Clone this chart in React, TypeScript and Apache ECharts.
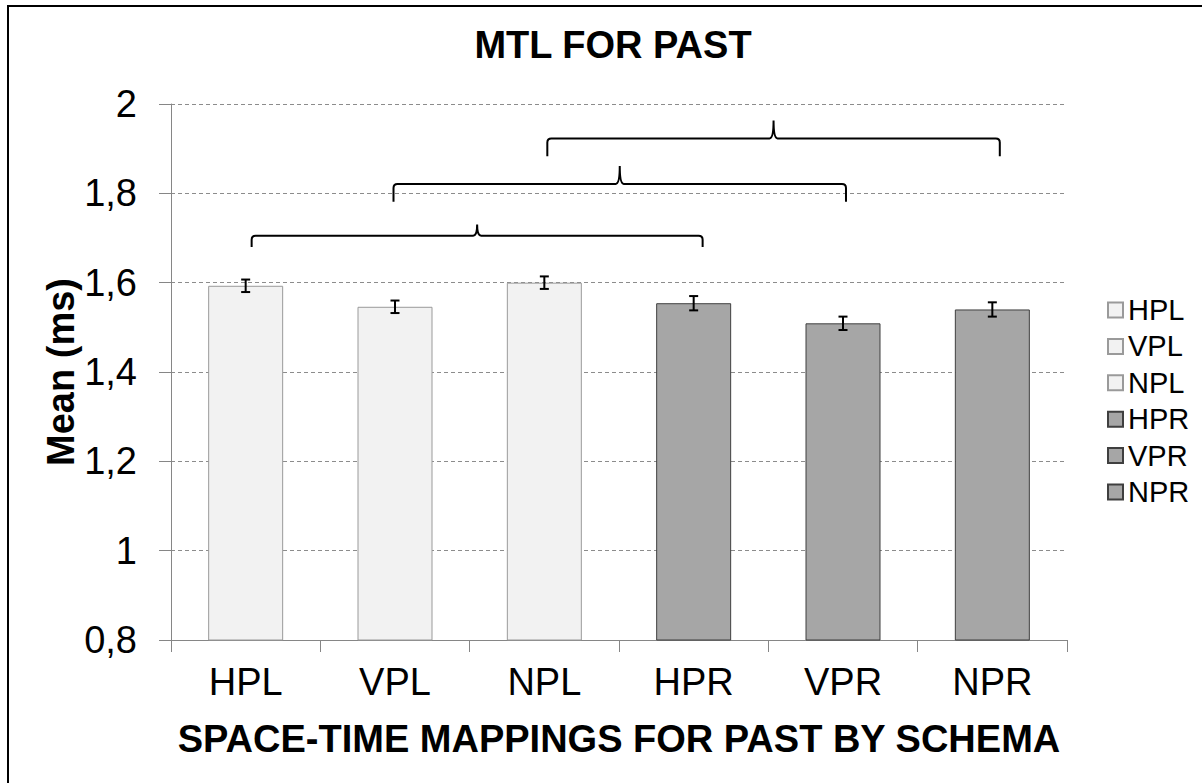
import React, { useEffect, useRef } from "react";
import * as echarts from "echarts";

const categories = ["HPL", "VPL", "NPL", "HPR", "VPR", "NPR"];
const means = [1.593, 1.546, 1.6, 1.554, 1.509, 1.54];
const errors = [0.014, 0.014, 0.014, 0.016, 0.015, 0.016];
const groupOf = ["L", "L", "L", "R", "R", "R"];

// significance brackets (category positions, level and depth in axis units)
const bracketFrom = [0.04, 0.99, 2.02];
const bracketTo = [3.06, 4.02, 5.05];
const bracketLevel = [1.705, 1.821, 1.923];
const bracketDepth = [0.025, 0.04, 0.04];

const yMin = 0.8;
const yMax = 2;
const yStep = 0.2;

const FONT = "'Liberation Sans', Arial, sans-serif";

export default function App() {
  const ref = useRef<HTMLDivElement>(null);

  useEffect(() => {
    if (!ref.current) return;
    const chart = echarts.init(ref.current, undefined, { renderer: "svg" });

    const styleFor = (g: string) =>
      g === "L"
        ? { color: "#f2f2f2", borderColor: "#9a9a9a", borderWidth: 1 }
        : { color: "#a6a6a6", borderColor: "#3f3f3f", borderWidth: 1 };

    const barSeries = categories.map((c, i) => ({
      type: "bar",
      name: c,
      data: means.map((m, j) => (j === i ? m : null)),
      barWidth: 75,
      barGap: "-100%",
      itemStyle: styleFor(groupOf[i]),
      emphasis: { disabled: true },
    }));

    const xAt = (api: any, pos: number, y: number) => {
      const base = Math.floor(pos);
      const c = api.coord([base, y]);
      const bw = api.size([1, 0])[0];
      return c[0] + (pos - base) * bw;
    };

    const option: any = {
      animation: false,
      textStyle: { fontFamily: FONT },
      title: {
        text: "MTL FOR PAST",
        left: 608,
        textAlign: "center",
        top: 21,
        textStyle: { fontFamily: FONT, fontSize: 38, fontWeight: "bold", color: "#000" },
      },
      grid: { left: 171, right: 135, top: 104, bottom: 143, containLabel: false },
      legend: {
        data: categories,
        orient: "vertical",
        left: 1102,
        top: 290,
        itemWidth: 15,
        itemHeight: 15,
        itemGap: 6.4,
        icon: "rect",
        selectedMode: false,
        textStyle: { fontFamily: FONT, fontSize: 29, color: "#000", lineHeight: 30 },
      },
      xAxis: {
        type: "category",
        data: categories,
        name: "SPACE-TIME MAPPINGS FOR PAST BY SCHEMA",
        nameLocation: "middle",
        nameGap: 80,
        nameMoveOverlap: false,
        nameTextStyle: { fontFamily: FONT, fontSize: 38, fontWeight: "bold", color: "#000" },
        axisLine: { lineStyle: { color: "#868686", width: 1 } },
        axisTick: { show: true, length: 12, lineStyle: { color: "#868686" } },
        axisLabel: { fontFamily: FONT, fontSize: 38, color: "#000", margin: 23 },
      },
      yAxis: {
        type: "value",
        min: yMin,
        max: yMax,
        interval: yStep,
        name: "Mean (ms)",
        nameLocation: "middle",
        nameGap: 91,
        nameMoveOverlap: false,
        nameTextStyle: { fontFamily: FONT, fontSize: 38, fontWeight: "bold", color: "#000" },
        axisLine: { show: true, lineStyle: { color: "#868686", width: 1 } },
        axisTick: { show: true, length: 12, lineStyle: { color: "#868686" } },
        axisLabel: {
          fontFamily: FONT,
          fontSize: 38,
          color: "#000",
          margin: 34,
          formatter: (v: number) => String(Math.round(v * 10) / 10).replace(".", ","),
        },
        splitLine: { show: true, lineStyle: { color: "#8c8c8c", type: [4, 3], width: 1 } },
      },
      graphic: [
        {
          type: "rect",
          shape: { x: 8, y: 6, width: 1400, height: 1000 },
          style: { fill: "none", stroke: "#000", lineWidth: 2 },
          silent: true,
          z: 100,
        },
      ],
      series: [
        ...barSeries,
        {
          type: "custom",
          name: "error",
          data: means.map((m, i) => [i, m, errors[i]]),
          z: 10,
          silent: true,
          renderItem: (params: any, api: any) => {
            const i = api.value(0);
            const m = api.value(1);
            const e = api.value(2);
            const top = api.coord([i, m + e]);
            const bot = api.coord([i, m - e]);
            const hw = 4.5;
            const st = { stroke: "#000", lineWidth: 2 };
            return {
              type: "group",
              children: [
                { type: "line", shape: { x1: top[0], y1: top[1], x2: bot[0], y2: bot[1] }, style: st },
                { type: "line", shape: { x1: top[0] - hw, y1: top[1], x2: top[0] + hw, y2: top[1] }, style: st },
                { type: "line", shape: { x1: bot[0] - hw, y1: bot[1], x2: bot[0] + hw, y2: bot[1] }, style: st },
              ],
            };
          },
        },
        {
          type: "custom",
          name: "brackets",
          data: bracketLevel.map((lv, k) => [k, lv]),
          z: 10,
          silent: true,
          renderItem: (params: any, api: any) => {
            const k = params.dataIndex;
            const lv = bracketLevel[k];
            const d = bracketDepth[k];
            const y = api.coord([0, lv])[1];
            const yLeg = api.coord([0, lv - d])[1];
            const yTop = api.coord([0, lv + d])[1];
            const x1 = xAt(api, bracketFrom[k], lv);
            const x2 = xAt(api, bracketTo[k], lv);
            const xm = (x1 + x2) / 2;
            const r = 4;
            const s = 4;
            const p =
              `M${x1},${yLeg} L${x1},${y + r} Q${x1},${y} ${x1 + r},${y} ` +
              `L${xm - s},${y} Q${xm},${y} ${xm},${yTop} Q${xm},${y} ${xm + s},${y} ` +
              `L${x2 - r},${y} Q${x2},${y} ${x2},${y + r} L${x2},${yLeg}`;
            return {
              type: "path",
              shape: { pathData: p },
              style: { fill: "none", stroke: "#000", lineWidth: 2 },
            };
          },
        },
      ],
    };

    chart.setOption(option);
    return () => chart.dispose();
  }, []);

  return (
    <div
      ref={ref}
      style={{ position: "absolute", left: 0, top: 0, width: 1202, height: 783, background: "#fff" }}
    />
  );
}
